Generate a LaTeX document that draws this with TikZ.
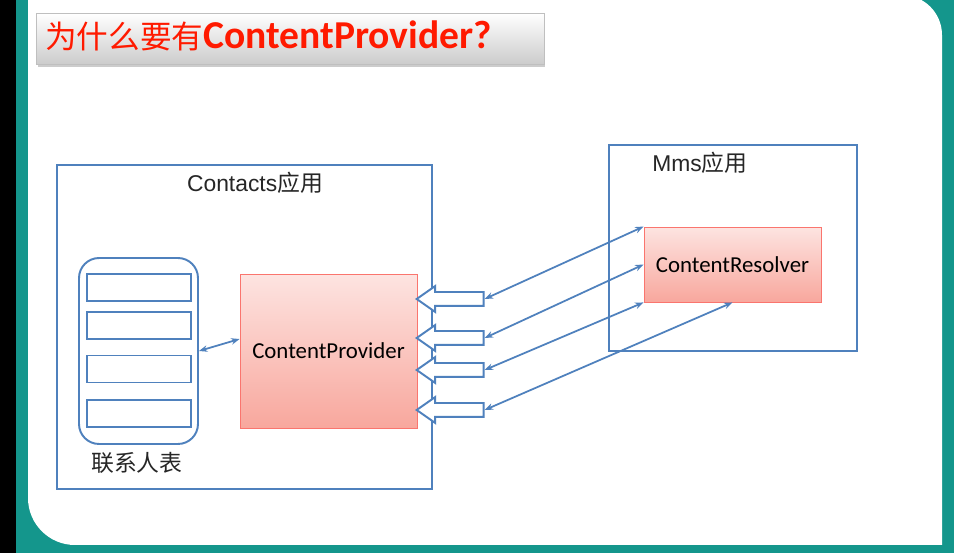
\documentclass[tikz,border=0pt]{standalone}
\usepackage{fontspec}
\setmainfont{Liberation Sans}
\newfontfamily\cjk{Noto Sans CJK SC}
\newfontfamily\calibri{Carlito}
\usetikzlibrary{shapes.arrows,shadows,arrows.meta}

\definecolor{lineblue}{HTML}{4F81BD}
\definecolor{slideteal}{HTML}{14968C}
\definecolor{titlered}{HTML}{FF1A00}
\definecolor{pinktop}{HTML}{FDE4E1}
\definecolor{pinkbot}{HTML}{F8A79D}

\begin{document}
\begin{tikzpicture}[x=0.02cm, y=-0.02cm,
  appbox/.style={draw=lineblue, line width=1.1pt, inner sep=0},
  rowbox/.style={draw=lineblue, line width=1.1pt, minimum width=2.08cm, minimum height=0.54cm, inner sep=0},
  pinkbox/.style={draw=pinkbot!70!red, line width=0.5pt, top color=pinktop, bottom color=pinkbot, inner sep=0, font=\fontsize{13}{15}\selectfont\calibri},
  titlebox/.style={draw=gray!50, top color=white, bottom color=gray!40, inner sep=0, drop shadow={opacity=0.4, shadow xshift=0.03cm, shadow yshift=-0.06cm}},
  blockarrow/.style={single arrow, shape border rotate=180, draw=lineblue, fill=white, line width=1.1pt, single arrow head extend=0.12cm, single arrow tip angle=70, minimum height=1.34cm, inner xsep=0, inner ysep=0.12cm},
  link/.style={draw=lineblue, line width=1pt, >={Stealth[length=0.17cm, width=0.13cm]}, <->},
  apptext/.style={font=\fontsize{13}{15}\selectfont, text=black!85, inner sep=0}]

\useasboundingbox (0,0) rectangle (954,553);
\fill[slideteal] (0,0) rectangle (954,553);
\fill[black] (0,0) rectangle (16,553);
\fill[white] (28,-5) -- (902,-5) arc[start angle=90, end angle=0, radius=0.8cm] -- (942,545) -- (75,545) arc[start angle=270, end angle=180, radius=0.94cm] -- cycle;

\node[titlebox, minimum width=10.16cm, minimum height=1.02cm] (titlebar) at (290,38.5) {};
\node[anchor=base west, text=titlered, inner sep=0] (title) at (45,49) {\fontsize{18}{20}\selectfont\cjk 为什么要有\fontsize{22.5}{24}\selectfont\calibri\bfseries ContentProvider?};


\node[appbox, minimum width=7.5cm, minimum height=6.48cm] (contacts) at (244.5,327) {};
\node[apptext] (contactstitle) at (255,183) {Contacts{\cjk 应用}};

\node[pinkbox, minimum width=3.54cm, minimum height=3.08cm] (prov) at (328.5,351) {ContentProvider};

\node[appbox, rounded corners=0.4cm, minimum width=2.38cm, minimum height=3.72cm] (tbl) at (138.5,351) {};
\node[rowbox] (row1) at (139,287.5) {};
\node[rowbox] (row2) at (139,325.5) {};
\node[rowbox] (row3) at (139,369) {};
\node[rowbox] (row4) at (139,413.5) {};
\node[apptext] (tbltitle) at (137,463) {\cjk 联系人表};


\node[appbox, minimum width=4.96cm, minimum height=4.12cm] (mms) at (733,248) {};
\node[apptext] (mmstitle) at (700,163) {Mms{\cjk 应用}};

\node[pinkbox, minimum width=3.54cm, minimum height=1.5cm] (res) at (732.5,264.5) {ContentResolver};


\node[blockarrow, anchor=tip] (req1) at (415,299) {};
\node[blockarrow, anchor=tip] (req2) at (415,338) {};
\node[blockarrow, anchor=tip] (req3) at (415,370) {};
\node[blockarrow, anchor=tip] (req4) at (415,410) {};

\draw[link] (tbl.east) -- ([yshift=0.24cm]prov.west);
\draw[link] (req1.tail) -- (res.north west);
\draw[link] (req2.tail) -- (res.west);
\draw[link] (req3.tail) -- (res.south west);
\draw[link] (req4.tail) -- (res.south);

\end{tikzpicture}
\end{document}
